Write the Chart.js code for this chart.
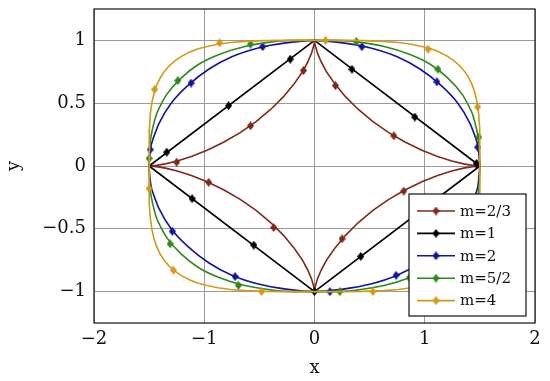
<!DOCTYPE html>
<html>
<head>
<meta charset="utf-8">
<title>Superellipses</title>
<script src="https://cdn.jsdelivr.net/npm/chart.js@4"></script>
<style>
  body { margin: 0; background: #fff; }
  canvas { display: block; }
</style>
</head>
<body>
<canvas id="chart" width="550" height="381"></canvas>
<script>
// series labels and colours (legend order)
const labels = ["m=2/3", "m=1", "m=2", "m=5/2", "m=4"];
const colors = ["#7f2a18", "#000000", "#14149e", "#2f8a1c", "#d49a1a"];

// tick values
const xTicks = [-2, -1, 0, 1, 2];
const yTicks = [-1, -0.5, 0, 0.5, 1];

// curve points, going round from (1.5, 0)
const curve23 = [
  [1.5, 0], [1.483, 0.001], [1.433, 0.005], [1.352, 0.017], [1.245, 0.04], [1.117, 0.075], [0.974, 0.125], [0.825, 0.189], [0.674, 0.266], [0.53, 0.354], [0.398, 0.45], [0.283, 0.55], [0.188, 0.65], [0.113, 0.744], [0.06, 0.83], [0.026, 0.901], [0.008, 0.955], [0.001, 0.989], [0, 1],
  [-0.001, 0.989], [-0.008, 0.955], [-0.026, 0.901], [-0.06, 0.83], [-0.113, 0.744], [-0.188, 0.65], [-0.283, 0.55], [-0.398, 0.45], [-0.53, 0.354], [-0.674, 0.266], [-0.825, 0.189], [-0.974, 0.125], [-1.117, 0.075], [-1.245, 0.04], [-1.352, 0.017], [-1.433, 0.005], [-1.483, 0.001], [-1.5, 0],
  [-1.483, -0.001], [-1.433, -0.005], [-1.352, -0.017], [-1.245, -0.04], [-1.117, -0.075], [-0.974, -0.125], [-0.825, -0.189], [-0.674, -0.266], [-0.53, -0.354], [-0.398, -0.45], [-0.283, -0.55], [-0.188, -0.65], [-0.113, -0.744], [-0.06, -0.83], [-0.026, -0.901], [-0.008, -0.955], [-0.001, -0.989], [0, -1],
  [0.001, -0.989], [0.008, -0.955], [0.026, -0.901], [0.06, -0.83], [0.113, -0.744], [0.188, -0.65], [0.283, -0.55], [0.398, -0.45], [0.53, -0.354], [0.674, -0.266], [0.825, -0.189], [0.974, -0.125], [1.117, -0.075], [1.245, -0.04], [1.352, -0.017], [1.433, -0.005], [1.483, -0.001], [1.5, 0],
];
const curve1 = [[1.5, 0], [0, 1], [-1.5, 0], [0, -1], [1.5, 0]];
const curve2 = [
  [1.5, 0], [1.48, 0.17], [1.41, 0.34], [1.3, 0.5], [1.15, 0.64], [0.96, 0.77], [0.75, 0.87], [0.51, 0.94], [0.26, 0.98], [0, 1],
  [-0.26, 0.98], [-0.51, 0.94], [-0.75, 0.87], [-0.96, 0.77], [-1.15, 0.64], [-1.3, 0.5], [-1.41, 0.34], [-1.48, 0.17], [-1.5, 0],
  [-1.48, -0.17], [-1.41, -0.34], [-1.3, -0.5], [-1.15, -0.64], [-0.96, -0.77], [-0.75, -0.87], [-0.51, -0.94], [-0.26, -0.98], [0, -1],
  [0.26, -0.98], [0.51, -0.94], [0.75, -0.87], [0.96, -0.77], [1.15, -0.64], [1.3, -0.5], [1.41, -0.34], [1.48, -0.17], [1.5, 0],
];
const curve52 = [
  [1.5, 0], [1.495, 0.14], [1.48, 0.25], [1.43, 0.42], [1.34, 0.57], [1.21, 0.7], [1.05, 0.81], [0.86, 0.89], [0.64, 0.95], [0.37, 0.99], [0.21, 1.0], [0, 1],
  [-0.21, 1.0], [-0.37, 0.99], [-0.64, 0.95], [-0.86, 0.89], [-1.05, 0.81], [-1.21, 0.7], [-1.34, 0.57], [-1.43, 0.42], [-1.48, 0.25], [-1.495, 0.14], [-1.5, 0],
  [-1.495, -0.14], [-1.48, -0.25], [-1.43, -0.42], [-1.34, -0.57], [-1.21, -0.7], [-1.05, -0.81], [-0.86, -0.89], [-0.64, -0.95], [-0.37, -0.99], [-0.21, -1.0], [0, -1],
  [0.21, -1.0], [0.37, -0.99], [0.64, -0.95], [0.86, -0.89], [1.05, -0.81], [1.21, -0.7], [1.34, -0.57], [1.43, -0.42], [1.48, -0.25], [1.495, -0.14], [1.5, 0],
];
const curve4 = [
  [1.5, 0], [1.5, 0.187], [1.497, 0.295], [1.489, 0.417], [1.474, 0.509], [1.454, 0.585], [1.428, 0.65], [1.396, 0.707], [1.358, 0.757], [1.313, 0.802], [1.261, 0.841], [1.203, 0.875], [1.136, 0.905], [1.061, 0.931], [0.975, 0.952], [0.877, 0.969], [0.763, 0.983], [0.625, 0.992], [0.443, 0.998], [0.28, 1.0], [0, 1],
  [-0.28, 1.0], [-0.443, 0.998], [-0.625, 0.992], [-0.763, 0.983], [-0.877, 0.969], [-0.975, 0.952], [-1.061, 0.931], [-1.136, 0.905], [-1.203, 0.875], [-1.261, 0.841], [-1.313, 0.802], [-1.358, 0.757], [-1.396, 0.707], [-1.428, 0.65], [-1.454, 0.585], [-1.474, 0.509], [-1.489, 0.417], [-1.497, 0.295], [-1.5, 0.187], [-1.5, 0],
  [-1.5, -0.187], [-1.497, -0.295], [-1.489, -0.417], [-1.474, -0.509], [-1.454, -0.585], [-1.428, -0.65], [-1.396, -0.707], [-1.358, -0.757], [-1.313, -0.802], [-1.261, -0.841], [-1.203, -0.875], [-1.136, -0.905], [-1.061, -0.931], [-0.975, -0.952], [-0.877, -0.969], [-0.763, -0.983], [-0.625, -0.992], [-0.443, -0.998], [-0.28, -1.0], [0, -1],
  [0.28, -1.0], [0.443, -0.998], [0.625, -0.992], [0.763, -0.983], [0.877, -0.969], [0.975, -0.952], [1.061, -0.931], [1.136, -0.905], [1.203, -0.875], [1.261, -0.841], [1.313, -0.802], [1.358, -0.757], [1.396, -0.707], [1.428, -0.65], [1.454, -0.585], [1.474, -0.509], [1.489, -0.417], [1.497, -0.295], [1.5, -0.187], [1.5, 0],
];

// diamond marks
const marks23 = [[0.72, 0.24], [0.19, 0.64], [-0.1, 0.76], [-0.58, 0.32], [-1.25, 0.03], [-0.96, -0.13], [-0.37, -0.49], [0.25, -0.58], [0.81, -0.2], [1.47, 0.01]];
const marks1 = [[0.91, 0.39], [0.34, 0.77], [-0.22, 0.85], [-0.78, 0.48], [-1.34, 0.11], [-1.11, -0.26], [-0.55, -0.63], [0, -1], [0.42, -0.72], [0.98, -0.35], [1.47, 0.02]];
const marks2 = [[1.48, 0.15], [1.11, 0.67], [0.43, 0.95], [-0.47, 0.95], [-1.12, 0.66], [-1.49, 0.13], [-1.29, -0.52], [-0.72, -0.88], [0.14, -1.0], [0.74, -0.87], [1.3, -0.5]];
const marks52 = [[1.49, 0.23], [1.12, 0.77], [0.38, 0.99], [-0.58, 0.97], [-1.24, 0.68], [-1.5, 0.06], [-1.31, -0.62], [-0.69, -0.95], [0.23, -1.0], [0.86, -0.89]];
const marks4 = [[1.48, 0.47], [1.03, 0.93], [0.1, 1.0], [-0.86, 0.98], [-1.45, 0.61], [-1.5, -0.18], [-1.28, -0.83], [-0.48, -1.0], [0.53, -1.0], [1.4, -0.7]];

const curves = [curve23, curve1, curve2, curve52, curve4];
const marks = [marks23, marks1, marks2, marks52, marks4];
const tensions = [0, 0, 0.2, 0.2, 0];

const FONT = "'DejaVu Serif', 'Liberation Serif', serif";

// narrow diamond, like pgfplots diamond*
function diamond(color) {
  const c = document.createElement("canvas");
  c.width = 7;
  c.height = 9;
  const g = c.getContext("2d");
  g.fillStyle = color;
  g.beginPath();
  g.moveTo(3.5, 0);
  g.lineTo(7, 4.5);
  g.lineTo(3.5, 9);
  g.lineTo(0, 4.5);
  g.closePath();
  g.fill();
  return c;
}

const datasets = [];
labels.forEach((label, i) => {
  datasets.push({
    label,
    data: curves[i],
    showLine: true,
    borderColor: colors[i],
    borderWidth: 1.6,
    borderJoinStyle: "round",
    pointRadius: 0,
    tension: tensions[i],
    order: 20 - i * 2,
  });
  datasets.push({
    label: label + " marks",
    data: marks[i],
    showLine: false,
    pointStyle: diamond(colors[i]),
    pointRadius: 4,
    order: 19 - i * 2,
  });
});

const frame = {
  id: "frame",
  afterDatasetsDraw(chart) {
    const { ctx, chartArea: a } = chart;
    ctx.save();
    ctx.strokeStyle = "#222";
    ctx.lineWidth = 1.3;
    ctx.strokeRect(a.left, a.top, a.right - a.left, a.bottom - a.top);
    ctx.restore();
  },
};

// boxed legend in the lower right corner
const legendBox = {
  id: "legendBox",
  afterDraw(chart) {
    const { ctx, chartArea: a } = chart;
    const w = 117, h = 122;
    const x0 = a.right - 9 - w, y0 = a.bottom - 7 - h;
    ctx.save();
    ctx.fillStyle = "#fff";
    ctx.fillRect(x0, y0, w, h);
    ctx.strokeStyle = "#111";
    ctx.lineWidth = 1.2;
    ctx.strokeRect(x0, y0, w, h);
    ctx.font = "15px " + FONT;
    ctx.textBaseline = "middle";
    labels.forEach((lab, i) => {
      const y = y0 + 17 + i * 22.4;
      ctx.strokeStyle = colors[i];
      ctx.lineWidth = 1.6;
      ctx.beginPath();
      ctx.moveTo(x0 + 8, y);
      ctx.lineTo(x0 + 46, y);
      ctx.stroke();
      ctx.drawImage(diamond(colors[i]), x0 + 27 - 3.5, y - 4.5);
      ctx.fillStyle = "#111";
      ctx.fillText(lab, x0 + 51, y + 1);
    });
    ctx.restore();
  },
};

const minus = (v) => String(v).replace("-", "\u2212");

// chart.js reserves half a label at each end; the labels never reach the ends here
const noEdgePad = (s) => {
  s.paddingTop = 0;
  s.paddingBottom = 0;
  s.paddingLeft = 0;
  s.paddingRight = 0;
};

new Chart(document.getElementById("chart"), {
  type: "scatter",
  data: { datasets },
  options: {
    responsive: false,
    animation: false,
    devicePixelRatio: 1,
    layout: { padding: { top: 9, right: 15, left: 0, bottom: 0 } },
    plugins: { legend: { display: false }, tooltip: { enabled: false } },
    scales: {
      x: {
        min: -2,
        max: 2,
        afterBuildTicks: (s) => { s.ticks = xTicks.map((value) => ({ value })); },
        afterFit: (s) => { s.height = 58; noEdgePad(s); },
        grid: { color: "#9a9a9a", lineWidth: 1, drawTicks: false },
        border: { display: false },
        ticks: { color: "#111", font: { family: FONT, size: 18 }, padding: 6, callback: minus },
        title: { display: true, text: "x", color: "#111", font: { family: FONT, size: 18 }, padding: { top: 0, bottom: 2 } },
      },
      y: {
        min: -1.25,
        max: 1.25,
        afterBuildTicks: (s) => { s.ticks = yTicks.map((value) => ({ value })); },
        afterFit: (s) => { s.width = 94; noEdgePad(s); },
        grid: { color: "#9a9a9a", lineWidth: 1, drawTicks: false },
        border: { display: false },
        ticks: { color: "#111", font: { family: FONT, size: 18 }, padding: 8, callback: minus },
        title: { display: true, text: "y", color: "#111", font: { family: FONT, size: 18 }, padding: { top: 4, bottom: 0 } },
      },
    },
  },
  plugins: [frame, legendBox],
});
</script>
</body>
</html>
